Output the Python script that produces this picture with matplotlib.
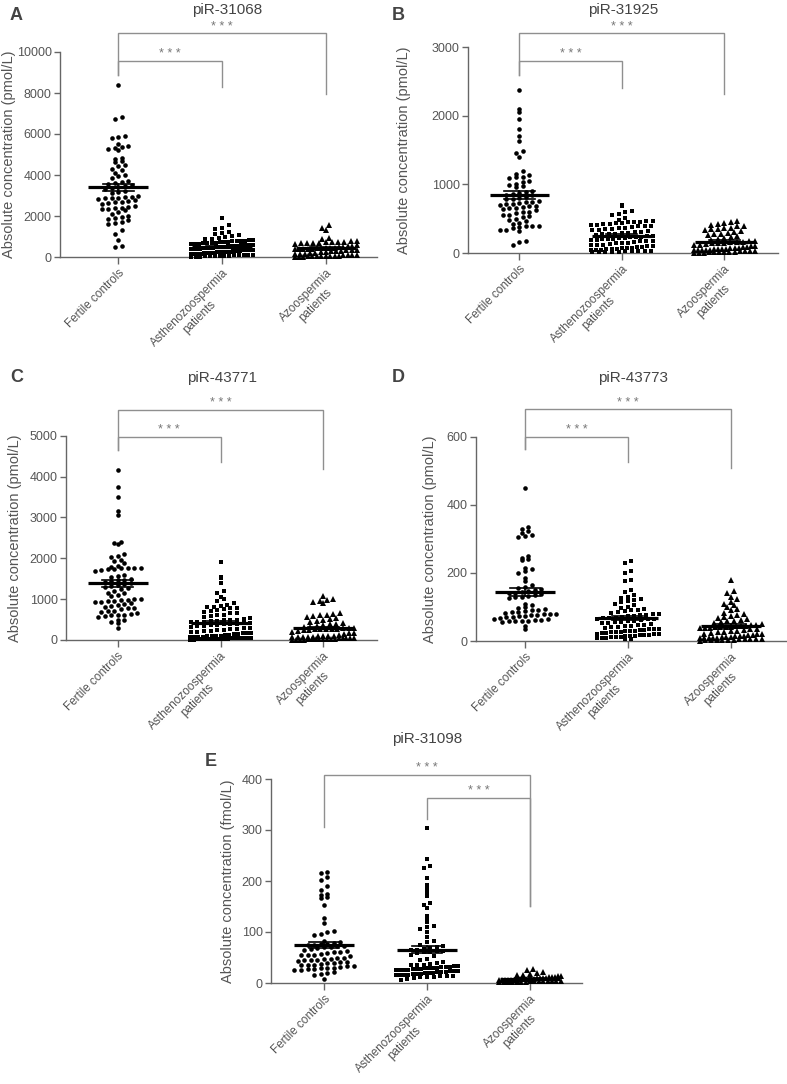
import numpy as np
import matplotlib
matplotlib.use("Agg")
import matplotlib.pyplot as plt

plt.rcParams["font.family"] = ["Liberation Sans", "DejaVu Sans"]

GROUPS = ["Fertile controls", "Asthenozoospermia\npatients", "Azoospermia\npatients"]
MARKERS = ["o", "s", "^"]

# ---- piR-31068 (pmol/L)
a_fert = [8400, 6850, 6750, 5900, 5850, 5800, 5500, 5400, 5350, 5300, 5250, 5200,
          4850, 4800, 4700, 4650, 4500, 4450, 4300, 4250, 4100, 4000, 3950, 3850,
          3700, 3650, 3600, 3550, 3500, 3450, 3400, 3350, 3300, 3200, 3150, 3100,
          3000, 2950, 2950, 2900, 2900, 2900, 2850, 2800, 2750, 2700, 2700, 2650,
          2600, 2500, 2450, 2400, 2400, 2350, 2350, 2300, 2200, 2100, 2000, 1950,
          1900, 1850, 1800, 1700, 1650, 1600, 1300, 1100, 850, 550, 500]
a_asth = [1920, 1560, 1410, 1350, 1220, 1180, 1120, 1060, 1010, 980, 940, 900, 860, 820,
          805, 792, 781, 768, 757, 742, 733, 718, 703, 691, 676, 662, 648, 639, 623, 608,
          597, 586, 574, 561, 548, 537, 522, 514, 503, 489, 477, 468, 455, 446, 431, 422,
          408, 394, 383, 371, 352, 344, 329, 318, 302, 291, 279, 268, 257, 246, 238, 221,
          212, 199, 188, 176, 165, 152, 144, 131, 118, 109, 98, 91, 82, 68, 59, 51, 43, 34,
          26, 19, 14, 9]
a_azoo = [1550, 1400, 1300, 950, 870, 800, 760, 740, 730, 720, 710, 700, 690, 680,
          660, 640, 600, 560, 520, 500, 480, 460, 450, 440, 430, 420, 410, 400, 390,
          380, 370, 360, 350, 330, 310, 290, 270, 250, 230, 210, 190, 170, 150, 130,
          110, 100, 90, 80, 70, 60, 50, 45, 40, 35, 30, 25, 20, 15, 10]

# ---- piR-31925 (pmol/L)
b_fert = [2380, 2090, 2050, 1950, 1810, 1700, 1630, 1480, 1460, 1400, 1200, 1150,
          1130, 1110, 1100, 1090, 1050, 1030, 1000, 990, 980, 960, 900, 890, 870, 860,
          850, 840, 820, 800, 790, 780, 760, 750, 740, 730, 720, 710, 700, 690, 680,
          670, 660, 650, 640, 620, 600, 590, 580, 560, 550, 540, 520, 500, 480, 460,
          440, 420, 400, 400, 390, 380, 360, 340, 330, 320, 180, 160, 120]
b_asth = [700, 690, 610, 590, 570, 550, 505, 480, 470, 460, 455, 450, 445, 440, 430,
          425, 420, 410, 405, 400, 395, 390, 380, 370, 360, 350, 345, 340, 330, 320,
          310, 300, 295, 290, 280, 275, 270, 260, 250, 245, 240, 235, 230, 225, 220,
          210, 205, 200, 195, 190, 180, 175, 170, 160, 150, 145, 140, 130, 120, 115,
          110, 100, 95, 90, 85, 80, 75, 70, 65, 60, 55, 50, 45, 40, 35, 30, 28, 25, 22,
          20, 18, 15, 12, 10]
b_azoo = [470, 445, 430, 420, 415, 400, 390, 370, 360, 350, 345, 330, 320, 305, 290,
          280, 270, 260, 250, 240, 225, 210, 195, 180, 170, 165, 160, 155, 150, 145,
          140, 130, 120, 110, 100, 95, 90, 85, 80, 75, 70, 65, 60, 55, 50, 45, 40, 35,
          30, 25, 20, 15, 10, 8, 5, 12, 18, 28, 38, 48, 58, 3, 6]

# ---- piR-43771 (pmol/L)
c_fert = [4150, 3750, 3500, 3150, 3050, 2400, 2380, 2360, 2100, 2050, 2020, 1950,
          1930, 1880, 1800, 1780, 1760, 1760, 1750, 1750, 1740, 1740, 1720, 1700,
          1600, 1560, 1540, 1500, 1480, 1460, 1440, 1420, 1400, 1380, 1350, 1330,
          1300, 1280, 1250, 1200, 1160, 1150, 1100, 1080, 1000, 1000, 990, 980, 960,
          950, 940, 920, 900, 880, 860, 820, 800, 790, 780, 760, 720, 700, 680, 660,
          640, 620, 610, 600, 590, 560, 500, 480, 450, 420, 300]
c_asth = [1900, 1550, 1520, 1400, 1200, 1160, 1060, 1000, 960, 900, 850, 820, 800,
          800, 790, 780, 760, 740, 700, 680, 660, 650, 620, 600, 580, 560, 540, 520,
          500, 490, 480, 470, 460, 450, 440, 430, 420, 410, 400, 390, 380, 370, 360,
          350, 340, 320, 300, 290, 280, 260, 250, 240, 220, 210, 200, 190, 180, 170,
          160, 150, 140, 130, 120, 110, 100, 95, 90, 85, 80, 70, 60, 55, 50, 45, 40,
          35, 30, 25, 20, 15, 10, 12, 18, 22, 28, 35, 48, 65]
c_azoo = [1080, 1000, 970, 950, 920, 900, 660, 640, 620, 600, 580, 560, 540, 520,
          500, 470, 450, 420, 400, 380, 360, 340, 320, 310, 300, 290, 285, 280, 275,
          270, 265, 260, 250, 240, 220, 200, 180, 160, 140, 120, 110, 100, 90, 80, 70,
          60, 50, 40, 30, 25, 20, 15, 10, 5, 8, 12, 18, 22, 28, 35, 45, 55, 65, 75,
          85, 95]

# ---- piR-43773 (pmol/L)
d_fert = [450, 335, 330, 322, 318, 312, 308, 305, 250, 243, 240, 238, 215, 212, 205,
          200, 185, 175, 165, 160, 155, 152, 150, 148, 145, 142, 140, 138, 135, 132,
          130, 128, 125, 110, 105, 100, 98, 95, 92, 90, 88, 85, 82, 80, 78, 76, 75,
          72, 70, 68, 65, 62, 60, 60, 58, 58, 55, 45, 35, 70, 72, 80, 84, 62, 66]
d_asth = [235, 230, 205, 200, 180, 175, 150, 145, 135, 130, 125, 122, 120, 118, 115,
          110, 105, 100, 98, 95, 92, 90, 88, 85, 82, 80, 78, 76, 75, 74, 72, 70, 69,
          68, 67, 66, 65, 64, 62, 60, 58, 56, 55, 54, 52, 50, 48, 46, 45, 44, 42, 40,
          38, 36, 35, 34, 32, 30, 28, 26, 25, 24, 22, 20, 18, 16, 15, 14, 12, 10, 8,
          6, 5, 9, 11, 13, 17, 19, 21, 23, 27, 29, 33]
d_azoo = [178, 148, 140, 128, 122, 115, 110, 105, 100, 95, 90, 82, 78, 75, 72, 70,
          68, 65, 62, 60, 58, 55, 52, 50, 48, 46, 45, 44, 43, 42, 41, 40, 40, 39, 38,
          37, 36, 35, 33, 30, 28, 25, 22, 20, 18, 15, 12, 10, 8, 6, 5, 4, 3, 2, 1, 3,
          5, 7, 9, 11, 14, 16, 19, 21, 24, 26, 2, 4, 6, 8, 10, 13]

# ---- piR-31098 (fmol/L)
e_fert = [218, 216, 208, 202, 190, 182, 175, 172, 168, 166, 153, 128, 118, 101, 100,
          97, 94, 83, 80, 78, 77, 76, 75, 74, 73, 72, 71, 70, 68, 66, 64, 62, 60, 58,
          56, 55, 54, 52, 50, 48, 47, 46, 45, 44, 42, 40, 38, 36, 35, 34, 33, 32, 30,
          29, 28, 27, 26, 25, 22, 20, 18, 15, 8, 30, 35, 40, 45, 50, 55, 60, 42]
e_asth = [303, 243, 229, 226, 205, 193, 184, 177, 170, 157, 152, 147, 132, 126, 120,
          112, 110, 105, 100, 90, 82, 80, 75, 72, 70, 68, 66, 65, 64, 63, 62, 61, 60,
          58, 55, 52, 48, 45, 42, 40, 38, 36, 35, 34, 33, 32, 31, 30, 29, 28, 27, 26,
          25, 24, 23, 22, 21, 20, 19, 18, 17, 16, 15, 14, 13, 12, 11, 10, 8, 6, 12,
          14, 18, 22, 25, 28, 30, 32, 35, 20, 24, 26, 16, 15, 30]
e_azoo = [28, 25, 22, 20, 18, 16, 15, 14, 13, 12, 12, 11, 10, 10, 9, 9, 8, 8, 8, 7,
          7, 7, 6, 6, 6, 5, 5, 5, 5, 4, 4, 4, 4, 3, 3, 3, 3, 2, 2, 2, 2, 1, 1, 1]

W, H = 787, 1084
GREY_TXT = "#555555"
AX_COL = "#666666"


def swarm_x(vals, binh, dx=0.064, half=0.3):
    vals = np.asarray(vals, float)
    bins = np.round(vals / binh).astype(int)
    xs = np.zeros(len(vals))
    for b in np.unique(bins):
        idx = np.where(bins == b)[0]
        idx = idx[np.argsort(vals[idx])]
        n = len(idx)
        step = dx if (n - 1) * dx <= 2 * half else 2 * half / (n - 1)
        xs[idx] = (np.arange(n) - (n - 1) / 2) * step
    return xs


def make_axes(fig, left, right, top, bottom, g0, g2):
    ax = fig.add_axes([left / W, 1 - bottom / H, (right - left) / W, (bottom - top) / H])
    sp = (g2 - g0) / 2
    ax.set_xlim((left - g0) / sp, (right - g0) / sp)
    return ax


def bracket(ax, x0, x1, ytop, yl, yr):
    ax.plot([x0, x0, x1, x1], [yl, ytop, ytop, yr], color="#8f8f8f", lw=1.0,
            clip_on=False, solid_joinstyle="miter")


def stars(ax, x, y):
    ax.annotate("* * *", (x, y), xytext=(0, 0.5), textcoords="offset points",
                ha="center", va="bottom", fontsize=9, color="#777777",
                annotation_clip=False)


def panel(ax, data, ymax, yticks, ylabel, label_x):
    binh = ymax * 5.0 / 205
    for g, (vals, mk) in enumerate(zip(data, MARKERS)):
        vals = np.asarray(vals, float)
        xs = g + swarm_x(vals, binh)
        ms = 3.7 if mk == "^" else 3.3
        ax.plot(xs, vals, mk, color="black", ms=ms, mew=0, clip_on=False, zorder=3)
        m = vals.mean()
        s = vals.std(ddof=1) / np.sqrt(len(vals))
        ax.plot([g - 0.29, g + 0.29], [m, m], color="black", lw=2.3, zorder=4,
                clip_on=False, solid_capstyle="butt")
        ax.plot([g, g], [m - s, m + s], color="black", lw=1.2, zorder=4, clip_on=False)
        for yy in (m - s, m + s):
            ax.plot([g - 0.15, g + 0.15], [yy, yy], color="black", lw=1.2, zorder=4,
                    clip_on=False)
    ax.set_ylim(0, ymax)
    ax.set_yticks(yticks)
    ax.set_xticks([0, 1, 2])
    ax.set_xticklabels(GROUPS, rotation=45, ha="right", rotation_mode="anchor",
                       multialignment="center", fontsize=8.5, color=GREY_TXT)
    ax.tick_params(axis="y", labelsize=9, labelcolor=GREY_TXT, color=AX_COL,
                   length=4, width=1, pad=2)
    ax.tick_params(axis="x", color=AX_COL, length=5, width=1, pad=2)
    for side in ("top", "right"):
        ax.spines[side].set_visible(False)
    for side in ("left", "bottom"):
        ax.spines[side].set_color(AX_COL)
        ax.spines[side].set_linewidth(1.0)
    ax.set_ylabel(ylabel, fontsize=10.5, color=GREY_TXT)
    ax.yaxis.set_label_coords(label_x, 0.5)
    ax.patch.set_alpha(0)


fig = plt.figure(figsize=(W / 100, H / 100), dpi=100)
pm = "Absolute concentration (pmol/L)"

# A
ax = make_axes(fig, 60, 377, 52, 257, 118.3, 325.7)
panel(ax, [a_fert, a_asth, a_azoo], 10000, [0, 2000, 4000, 6000, 8000, 10000], pm, -0.140)
bracket(ax, 0, 2, 10910, 8880, 7950)
bracket(ax, 0, 1, 9560, 8880, 8290)
stars(ax, 1, 10910)
stars(ax, 0.5, 9560)

# B
ax = make_axes(fig, 468, 778, 47, 253, 519.3, 724.3)
panel(ax, [b_fert, b_asth, b_azoo], 3000, [0, 1000, 2000, 3000], pm, -0.185)
bracket(ax, 0, 2, 3198, 2590, 2310)
bracket(ax, 0, 1, 2795, 2590, 2397)
stars(ax, 1, 3198)
stars(ax, 0.5, 2795)

# C
ax = make_axes(fig, 66, 377, 435.7, 640, 117.7, 323.3)
panel(ax, [c_fert, c_asth, c_azoo], 5000, [0, 1000, 2000, 3000, 4000, 5000], pm, -0.143)
bracket(ax, 0, 2, 5627, 4650, 4187)
bracket(ax, 0, 1, 4976, 4650, 4349)
stars(ax, 1, 5627)
stars(ax, 0.5, 4976)

# D
ax = make_axes(fig, 475.7, 787, 436.7, 641, 525, 730.7)
panel(ax, [d_fert, d_asth, d_azoo], 600, [0, 200, 400, 600], pm, -0.123)
bracket(ax, 0, 2, 680, 563, 507)
bracket(ax, 0, 1, 600, 563, 527)
stars(ax, 1, 680)
stars(ax, 0.5, 600)

# E (nudged up a few px so the rotated labels stay inside the canvas)
ax = make_axes(fig, 271, 581.7, 779, 983, 324, 530)
panel(ax, [e_fert, e_asth, e_azoo], 400, [0, 100, 200, 300, 400],
      "Absolute concentration (fmol/L)", -0.117)
bracket(ax, 0, 2, 408, 306, 151)
bracket(ax, 1, 2, 363, 321, 151)
stars(ax, 1, 408)
stars(ax, 1.5, 363)

# titles and panel letters
titles = [("piR-31068", 227, 10), ("piR-31925", 623, 10), ("piR-43771", 222, 378),
          ("piR-43773", 633, 378), ("piR-31098", 427, 739)]
for t, x, y in titles:
    fig.text(x / W, 1 - y / H, t, ha="center", va="center", fontsize=11, color="#444444")

letters = [("A", 16, 15), ("B", 398, 15), ("C", 17, 378), ("D", 398, 378), ("E", 211, 762)]
for t, x, y in letters:
    fig.text(x / W, 1 - y / H, t, ha="center", va="center", fontsize=13,
             fontweight="bold", color="#444444")

fig.savefig("out.png", dpi=100)
